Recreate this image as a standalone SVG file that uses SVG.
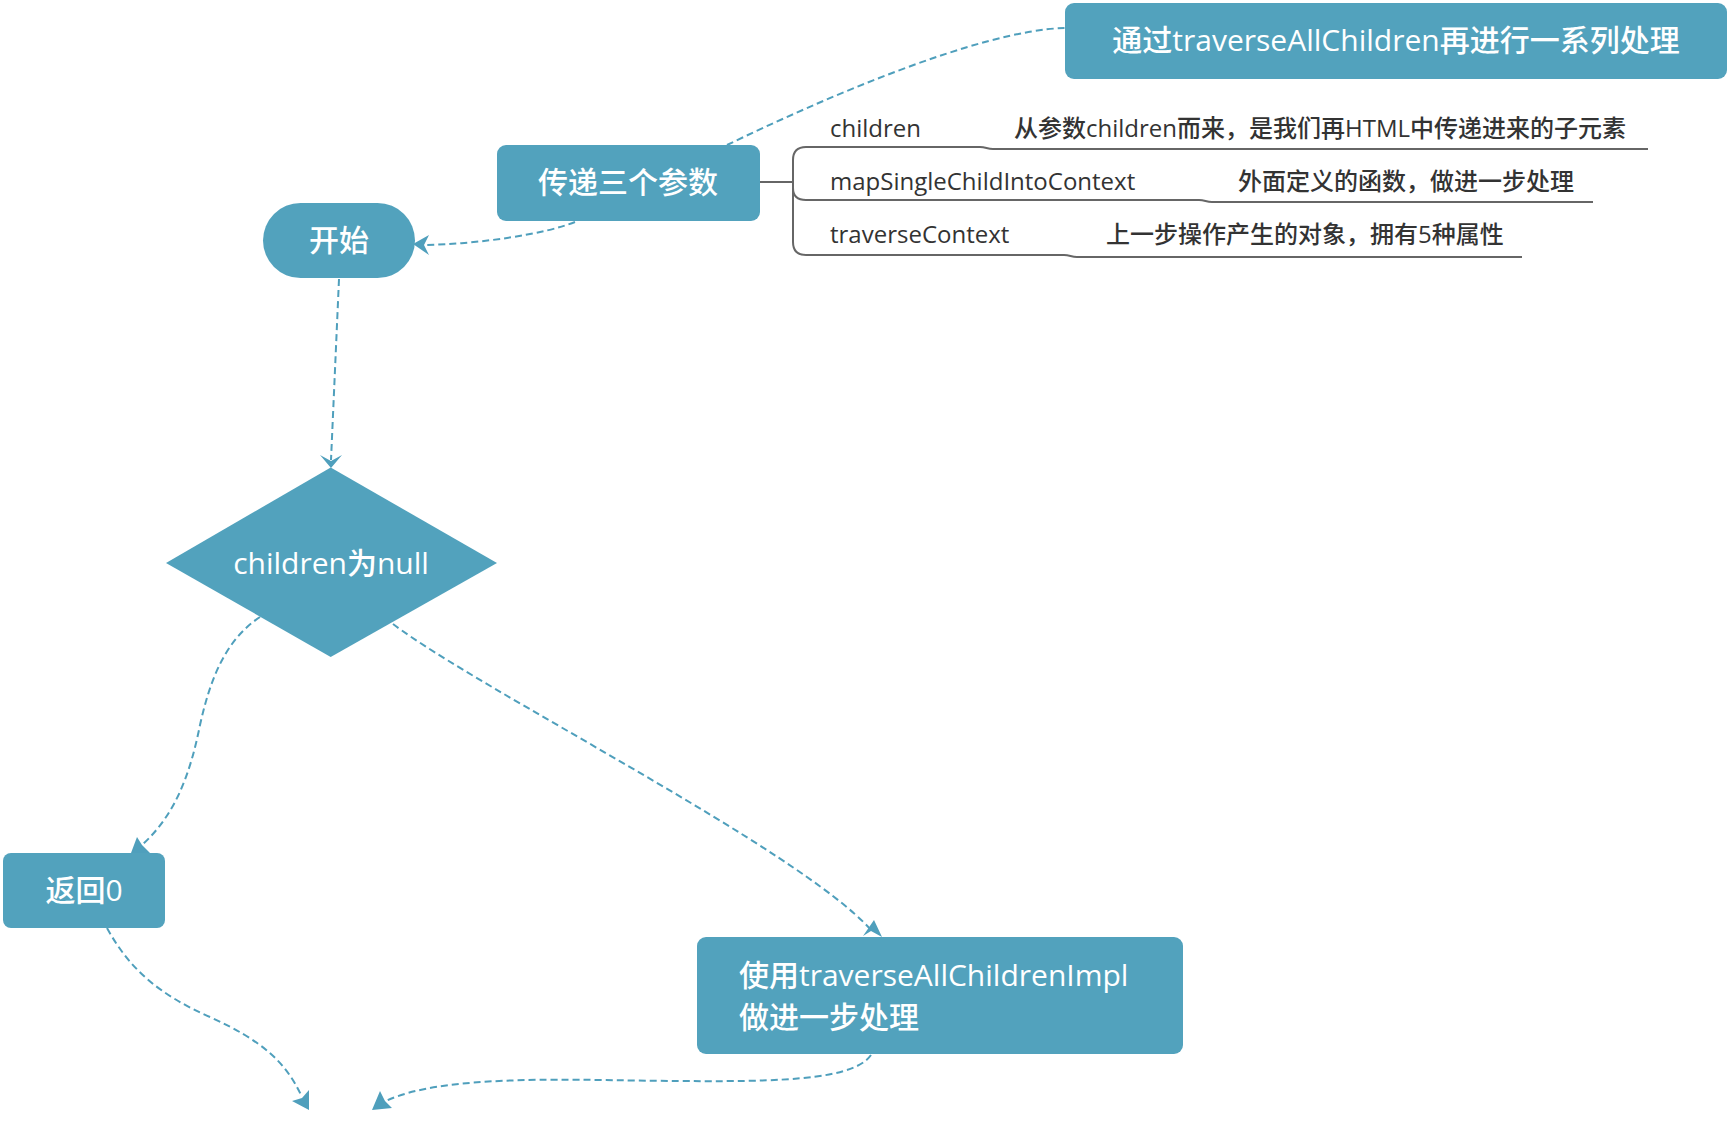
<svg xmlns="http://www.w3.org/2000/svg" width="1728" height="1122" viewBox="0 0 1728 1122">
<style>
.node{fill:#52a2bd}
.nt{fill:#ffffff;font-family:"Open Sans","Noto Sans CJK SC",sans-serif;font-size:30px;font-weight:500}
.mt{fill:#333333;font-family:"Open Sans","Noto Sans CJK SC",sans-serif;font-size:24px;font-weight:500}
.dash{fill:none;stroke:#4f9fbc;stroke-width:2;stroke-dasharray:7 4}
.arr{fill:#4f9fbc}
.br{fill:none;stroke:#666666;stroke-width:2}
</style>
<rect width="1728" height="1122" fill="#ffffff"/>
<g id="connectors">
<path class="dash" d="M727,145 C820,100 980,30 1065,28"/>
<path class="dash" d="M575,222 C545,234 480,244 424,245"/>
<polygon class="arr" points="413,244 429,235 424,245 429,255"/>
<path class="dash" d="M339,279 Q335,370 331,460"/>
<polygon class="arr" points="331,468 320,455 331,461 342,455"/>
<path class="dash" d="M260,617 C225,640 210,680 200,725 C190,775 175,815 142,845"/>
<polygon class="arr" points="137,837 131,853 150,853 142,845"/>
<path class="dash" d="M393,624 C480,690 800,850 871,930"/>
<polygon class="arr" points="874,920 863,936 871,931 882,937"/>
<path class="dash" d="M107,928 C130,970 160,995 210,1017 C260,1040 285,1060 302,1097"/>
<polygon class="arr" points="309,1110 292,1101 302,1098 309,1090"/>
<path class="dash" d="M871,1055 C850,1085 750,1082 600,1080 C480,1078 420,1085 386,1101"/>
<polygon class="arr" points="372,1110 380,1091 385,1101 392,1108"/>
</g>
<g id="n-top">
<rect class="node" x="1065" y="3" width="662" height="76" rx="9"/>
<text class="nt" x="1396" y="51" text-anchor="middle">通过traverseAllChildren再进行一系列处理</text>
</g>
<g id="n-params">
<rect class="node" x="497" y="145" width="263" height="76" rx="9"/>
<text class="nt" x="628" y="193" text-anchor="middle">传递三个参数</text>
</g>
<g id="n-params-branches">
<path class="br" d="M760,182 H793"/>
<path class="br" d="M793,242 V160 Q793,147 806,147 H980 C986,147 987,149 993,149 H1648"/>
<path class="br" d="M793,188 Q793,200 806,200 H1199 C1205,200 1206,202 1212,202 H1593"/>
<path class="br" d="M793,242 Q793,255 806,255 H1064 C1070,255 1071,257 1077,257 H1522"/>
<text class="mt" x="830" y="137">children</text>
<text class="mt" x="1014" y="137">从参数children而来，是我们再HTML中传递进来的子元素</text>
<text class="mt" x="830" y="190">mapSingleChildIntoContext</text>
<text class="mt" x="1238" y="190">外面定义的函数，做进一步处理</text>
<text class="mt" x="830" y="243">traverseContext</text>
<text class="mt" x="1106" y="243">上一步操作产生的对象，拥有5种属性</text>
</g>
<g id="n-start">
<rect class="node" x="263" y="203" width="152" height="75" rx="37.5"/>
<text class="nt" x="339" y="251" text-anchor="middle">开始</text>
</g>
<g id="n-decision">
<polygon class="node" points="330.7,467.5 497,563 330.7,657 166,563"/>
<text class="nt" x="331" y="574" text-anchor="middle">children为null</text>
</g>
<g id="n-return0">
<rect class="node" x="3" y="853" width="162" height="75" rx="8"/>
<text class="nt" x="84" y="901" text-anchor="middle">返回0</text>
</g>
<g id="n-impl">
<rect class="node" x="697" y="937" width="486" height="117" rx="9"/>
<text class="nt" x="739" y="986">使用traverseAllChildrenImpl</text>
<text class="nt" x="739" y="1028">做进一步处理</text>
</g>
</svg>
